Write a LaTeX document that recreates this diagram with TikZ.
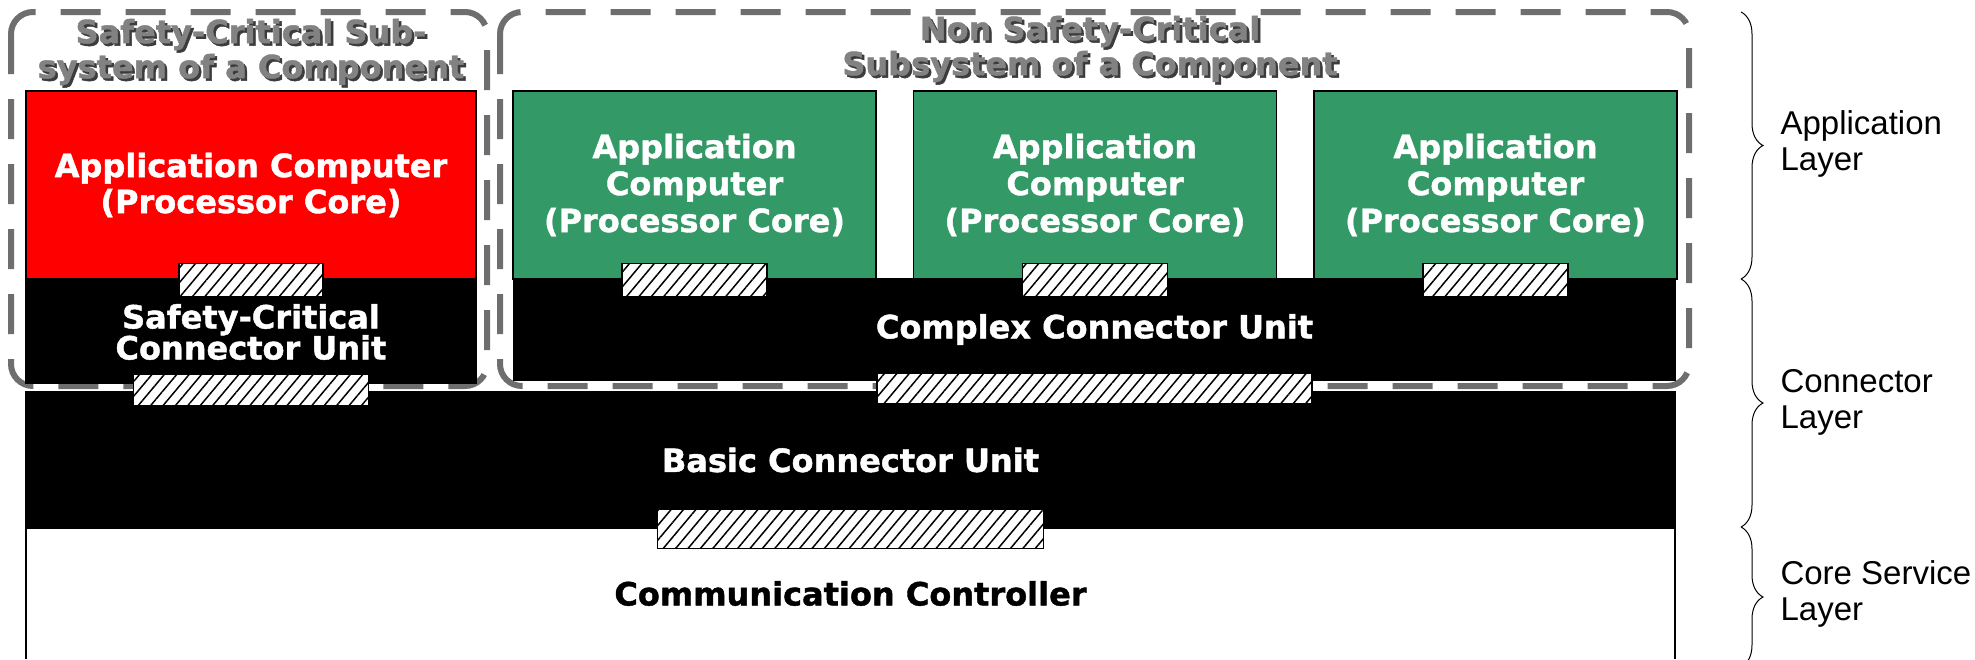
\documentclass[tikz,border=0pt]{standalone}
\usepackage{fontspec}
\setmainfont{DejaVu Sans}[BoldFeatures={FakeBold=1.3}]
\newfontfamily\layerfont{Liberation Sans}
\usepackage{xcolor}
\usetikzlibrary{positioning, patterns.meta, decorations.pathreplacing}

\definecolor{appred}{RGB}{255,0,0}
\definecolor{appgreen}{RGB}{51,153,102}
\definecolor{subgray}{RGB}{110,110,110}
\definecolor{titlegray}{RGB}{130,130,130}
\definecolor{titleshade}{RGB}{60,60,60}

\tikzset{
  unit/.style={draw=black, line width=1.5pt, inner sep=0pt, align=center,
    font=\bfseries\fontsize{32}{36}\selectfont},
  appsafe/.style={unit, fill=appred, text=white, minimum width=450pt, minimum height=188pt},
  appfree/.style={unit, fill=appgreen, text=white, minimum width=363pt, minimum height=188pt},
  conn/.style={unit, fill=black, text=white},
  iface/.style={draw=black, line width=1.5pt, inner sep=0pt, preaction={fill=white},
    pattern={Lines[angle=50, distance=9.5pt, line width=1.5pt]}, pattern color=black},
  subsys/.style={draw=subgray, line width=6pt, dash pattern=on 40pt off 25pt, rounded corners=22pt},
  title/.style={align=center, text=titlegray, font=\bfseries\fontsize{32}{35}\selectfont},
  shade/.style={title, text=titleshade},
  layer/.style={anchor=west, align=left, font=\layerfont\fontsize{33}{36}\selectfont},
  layerbrace/.style={decorate, decoration={brace, amplitude=22pt}, line width=1pt},
}

\begin{document}
\begin{tikzpicture}[x=1pt, y=-1pt]
  \useasboundingbox (0,0) rectangle (1975,659);

  % subsystem frames
  \draw[subsys] (11,12) rectangle (487,386);
  \draw[subsys] (500,12) rectangle (1689,386);

  \node[shade] (sctitleshade) at (253.5,54.5) {Safety-Critical Sub-\\system of a Component};
  \node[title] (sctitle) at (251,52) {Safety-Critical Sub-\\system of a Component};
  \node[shade] (nsctitleshade) at (1092.5,51.5) {Non Safety-Critical\\Subsystem of a Component};
  \node[title] (nsctitle) at (1090,49) {Non Safety-Critical\\Subsystem of a Component};

  % application layer
  \node[appsafe] (scapp) at (251,185) {Application Computer\\(Processor Core)};
  \node[appfree] (app1) at (694.5,185) {Application\\[1pt]Computer\\[1pt](Processor Core)};
  \node[appfree] (app2) [right=36pt of app1] {Application\\[1pt]Computer\\[1pt](Processor Core)};
  \node[appfree] (app3) [right=36pt of app2] {Application\\[1pt]Computer\\[1pt](Processor Core)};

  % connector layer
  \node[conn, minimum width=450pt, minimum height=103pt] (scconn) [below=0pt of scapp]
    {Safety-Critical\\[-5pt]Connector Unit};
  \node[conn, minimum width=1161pt, minimum height=101pt] (cplx) at (1094.5,329.5)
    {Complex Connector Unit};
  \node[conn, minimum width=1649pt, minimum height=136pt] (basic) at (850.5,460)
    {Basic Connector Unit};

  % core service layer
  \node[fill=white, inner sep=0pt, minimum width=1649pt, minimum height=131pt,
    font=\bfseries\fontsize{32}{36}\selectfont] (ctrl) at (850.5,593.5) {Communication Controller};
  \draw[line width=1.5pt] (ctrl.south west) -- (ctrl.north west) -- (ctrl.north east) -- (ctrl.south east);

  % interfaces
  \node[iface, minimum width=144pt, minimum height=33pt] (ifscapp) at (scapp.south) {};
  \node[iface, minimum width=145pt, minimum height=33pt] (ifapp1) at (app1.south) {};
  \node[iface, minimum width=145pt, minimum height=33pt] (ifapp2) at (app2.south) {};
  \node[iface, minimum width=145pt, minimum height=33pt] (ifapp3) at (app3.south) {};
  \node[iface, minimum width=235pt, minimum height=31pt, yshift=-5.5pt] (ifscconn) at (scconn.south) {};
  \node[iface, minimum width=435pt, minimum height=31pt, yshift=-7.5pt] (ifcplx) at (cplx.south) {};
  \node[iface, minimum width=386pt, minimum height=39pt] (ifbasic) at (basic.south) {};

  % layers
  \draw[layerbrace] (1741,12) -- (1741,279);
  \draw[layerbrace] (1741,279) -- (1741,527);
  \draw[layerbrace] (1741,527) -- (1741,667);
  \node[layer] (appl) at (1777,144) {Application\\Layer};
  \node[layer] (connl) at (1777,402) {Connector\\Layer};
  \node[layer] (corel) at (1777,594) {Core Service\\Layer};
\end{tikzpicture}
\end{document}
